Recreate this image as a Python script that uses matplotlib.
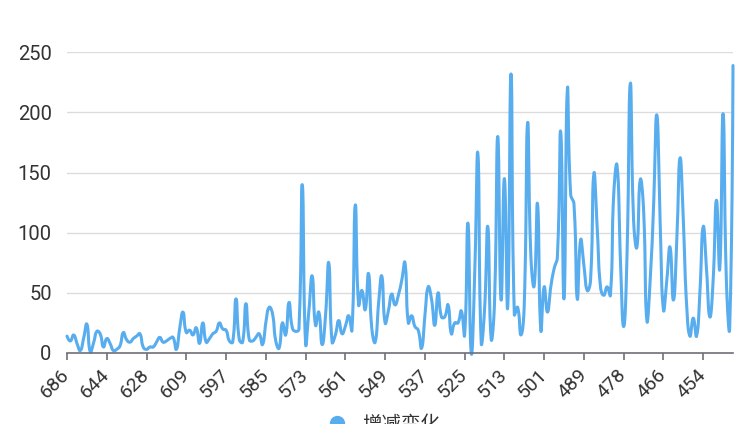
import numpy as np
import matplotlib
matplotlib.use("Agg")
import matplotlib.pyplot as plt
from matplotlib.lines import Line2D

plt.rcParams['font.family'] = ['Roboto', 'Noto Sans CJK SC', 'DejaVu Sans']

series_name = "增减变化"
tick_labels = ["686", "644", "628", "609", "597", "585", "573", "561", "549",
               "537", "525", "513", "501", "489", "478", "466", "454"]
label_interval = 12

values = [
    14, 10, 15, 8, 2, 12, 24, 1, 8, 18, 16, 5,
    12, 8, 2, 3, 6, 17, 11, 9, 12, 14, 16, 5,
    3, 5, 5, 9, 13, 9, 10, 12, 13, 3, 20, 34,
    17, 19, 15, 21, 8, 25, 9, 12, 16, 18, 25, 20,
    19, 10, 9, 45, 11, 9, 41, 11, 10, 13, 16, 7,
    25, 38, 33, 10, 4, 25, 15, 42, 21, 18, 20, 140,
    8, 35, 64, 23, 34, 7, 30, 75, 9, 15, 27, 16,
    22, 31, 19, 123, 40, 52, 36, 66, 20, 9, 40, 64,
    25, 35, 49, 40, 48, 60, 75, 25, 31, 22, 19, 4,
    30, 55, 45, 23, 50, 30, 30, 40, 16, 25, 25, 35,
    15, 108, 0, 60, 166, 9, 35, 105, 12, 40, 180, 44,
    145, 38, 232, 32, 38, 15, 40, 191, 80, 56, 124, 19,
    55, 34, 55, 70, 80, 184, 45, 219, 132, 124, 45, 94,
    73, 52, 60, 149, 105, 55, 48, 55, 48, 132, 156, 80,
    22, 80, 224, 110, 88, 144, 120, 27, 60, 120, 198, 110,
    36, 60, 88, 44, 90, 162, 110, 40, 14, 29, 14, 50,
    105, 70, 30, 60, 127, 70, 199, 60, 21, 239,
]

LINE_COLOR = "#58adee"
GRID_COLOR = "#dcdcdc"
AXIS_COLOR = "#6e7079"
TEXT_COLOR = "#333333"

W, H = 754, 424
fig = plt.figure(figsize=(W / 100, H / 100), dpi=100)
left, right, top, bottom = 67, 733, 52.3, 353
ax = fig.add_axes([left / W, (H - bottom) / H, (right - left) / W, (bottom - top) / H])

n = len(values)
xs = np.arange(n, dtype=float)
ys = np.array(values, dtype=float)

# ECharts-style smooth (0.5) bezier, computed in pixel space
sx = (right - left) / (n - 1)
sy = (bottom - top) / 250.0
P = np.column_stack([xs * sx, ys * sy])
smooth = 0.5
cp_prev = P.copy()
cp_next = P.copy()
for i in range(1, n - 1):
    v = P[i + 1] - P[i - 1]
    d0 = np.hypot(*(P[i] - P[i - 1]))
    d1 = np.hypot(*(P[i + 1] - P[i]))
    r = d1 / (d0 + d1) if (d0 + d1) > 0 else 0.5
    cp_prev[i] = P[i] - v * smooth * (1 - r)
    cp_next[i] = P[i] + v * smooth * r
t = np.linspace(0, 1, 16)[:, None]
segs = []
for i in range(n - 1):
    p0, p1, p2, p3 = P[i], cp_next[i], cp_prev[i + 1], P[i + 1]
    b = ((1 - t) ** 3) * p0 + 3 * ((1 - t) ** 2) * t * p1 + 3 * (1 - t) * t ** 2 * p2 + t ** 3 * p3
    segs.append(b if i == 0 else b[1:])
curve = np.vstack(segs)
cx = curve[:, 0] / sx
cy = curve[:, 1] / sy

ax.plot(cx, cy, color=LINE_COLOR, lw=2.2, solid_capstyle='round', solid_joinstyle='round',
        clip_on=False, zorder=3)

ax.set_xlim(0, n - 1)
ax.set_ylim(0, 250)
ax.set_yticks([0, 50, 100, 150, 200, 250])
ax.yaxis.grid(True, color=GRID_COLOR, lw=1)
ax.set_axisbelow(True)
for s in ["top", "right", "left"]:
    ax.spines[s].set_visible(False)
ax.spines["bottom"].set_color(AXIS_COLOR)
ax.spines["bottom"].set_linewidth(1.2)
ax.spines["bottom"].set_zorder(4)

tick_pos = np.arange(len(tick_labels)) * label_interval
ax.set_xticks(tick_pos)
ax.set_xticklabels(tick_labels, rotation=45, ha="right", va="center", rotation_mode="anchor",
                   fontsize=14, color=TEXT_COLOR)
ax.tick_params(axis="x", length=5, width=1.2, color=AXIS_COLOR, pad=9)
ax.tick_params(axis="y", length=0, pad=11, labelsize=14.5, labelcolor=TEXT_COLOR)

handle = Line2D([], [], marker="o", ls="", color=LINE_COLOR, markersize=10)
fig.legend([handle], [series_name], loc="center", bbox_to_anchor=(0.503, 0.0),
           frameon=False, handletextpad=0.3, labelcolor=TEXT_COLOR,
           prop={"family": ["Noto Sans CJK SC", "DejaVu Sans"], "size": 14})

fig.savefig("out.png", dpi=100)
